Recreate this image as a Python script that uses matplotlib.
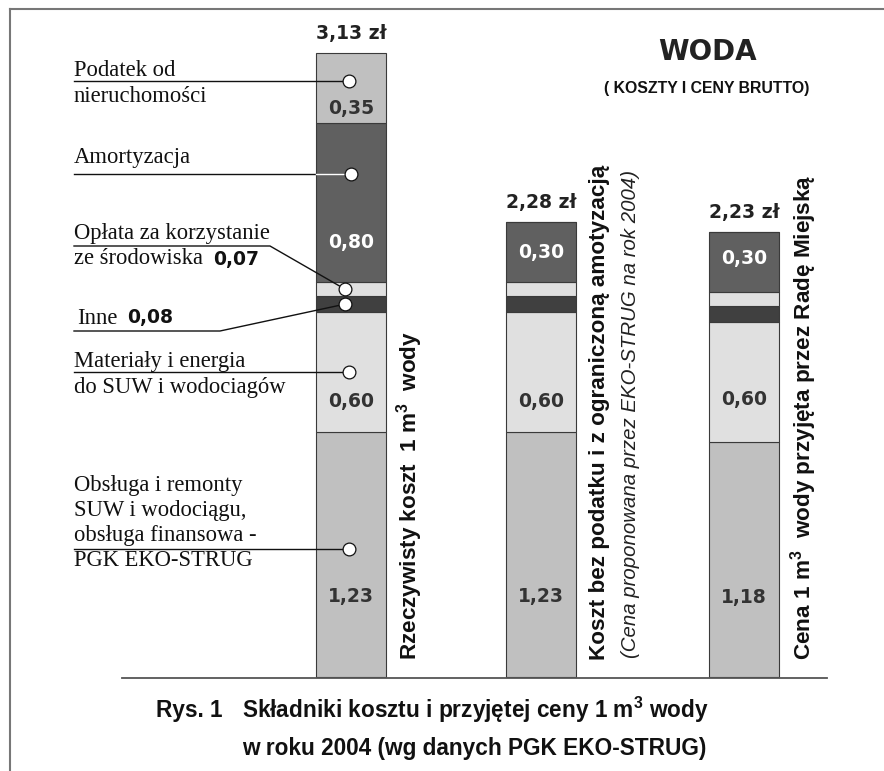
import numpy as np
import matplotlib
matplotlib.use('Agg')
import matplotlib.pyplot as plt

plt.rcParams['mathtext.fontset'] = 'custom'
plt.rcParams['mathtext.rm'] = 'Liberation Sans'
plt.rcParams['mathtext.bf'] = 'Liberation Sans:bold'

# data (zl per 1 m3 of water, 2004)
bar_names = ['Rzeczywisty koszt  1 m$^{\\mathbf{3}}$  wody',
             'Koszt bez podatku i z ograniczoną amotyzacją',
             'Cena 1 m$^{\\mathbf{3}}$  wody przyjęta przez Radę Miejską']
obsluga = [1.23, 1.23, 1.18]
materialy = [0.60, 0.60, 0.60]
inne = [0.08, 0.08, 0.08]
oplata = [0.07, 0.07, 0.07]
amortyzacja = [0.80, 0.30, 0.30]
podatek = [0.35, 0.00, 0.00]
totals = [3.13, 2.28, 2.23]

segments = [obsluga, materialy, inne, oplata, amortyzacja, podatek]
seg_colors = ['#c0c0c0', '#e0e0e0', '#404040', '#e0e0e0', '#606060', '#c0c0c0']

W, H = 884, 771
fig = plt.figure(figsize=(W / 100, H / 100), dpi=100)

# bars: x in pixels, y in zl (199.4 px per zl, zero at pixel row 677)
ax = fig.add_axes([0, 0, 1, 1])
scale = 199.4
ax.set_xlim(0, W)
ax.set_ylim(-(H - 677) / scale, 677 / scale)
ax.axis('off')

# overlay in pixel coordinates
ov = fig.add_axes([0, 0, 1, 1])
ov.set_xlim(0, W)
ov.set_ylim(H, 0)
ov.axis('off')
ov.patch.set_alpha(0)

xpos = np.array([351, 541, 744])
bw = 70

bottoms = np.zeros(3)
seg_bottoms = []
for vals, col in zip(segments, seg_colors):
    vals = np.array(vals)
    ax.bar(xpos, vals, bw, bottom=bottoms, color=col,
           edgecolor='#3a3a3a', linewidth=0.8)
    seg_bottoms.append(bottoms.copy())
    bottoms = bottoms + vals


def fmt(v):
    return ('%.2f' % v).replace('.', ',')


num_font = dict(family='DejaVu Sans', fontweight='bold', fontsize=13.5)

# value labels inside segments: (segment index, position within segment per bar)
label_frac = {0: [0.33, 0.33, 0.34],
              1: [0.25, 0.25, 0.35],
              4: [0.25, 0.5, 0.57],
              5: [0.21, 0.21, 0.21]}
for si, fr in label_frac.items():
    vals = segments[si]
    txt_col = 'white' if si == 4 else '#333333'
    for i in range(3):
        if vals[i] <= 0:
            continue
        y = seg_bottoms[si][i] + fr[i] * vals[i]
        ax.text(xpos[i], y, fmt(vals[i]), ha='center', va='center',
                color=txt_col, **num_font)

for i in range(3):
    ax.annotate(fmt(totals[i]) + ' zł', (xpos[i], totals[i]),
                xytext=(0, 14), textcoords='offset points',
                ha='center', va='center', color='#222222',
                family='DejaVu Sans', fontweight='bold', fontsize=13.5)


def to_pix(x, v):
    return ov.transData.inverted().transform(ax.transData.transform((x, v)))


# left legend labels with leader lines to circles on the first bar
serif = dict(family='Liberation Serif', fontsize=16.3, color='#111111')
left_x = 74

# (segment index, position in segment, circle x)
callouts = [
    (5, 0.60, 349),
    (4, 0.68, 351),
    (3, 0.50, 345),
    (2, 0.50, 345),
    (1, 0.50, 349),
    (0, 0.52, 349),
]
circ = {}
for si, fr, cx in callouts:
    v = seg_bottoms[si][0] + fr * segments[si][0]
    circ[si] = to_pix(cx, v)

ink = '#111111'
ov.text(left_x, 70, 'Podatek od', va='center', **serif)
ov.text(left_x, 97, 'nieruchomości', va='center', **serif)
ov.plot([left_x, circ[5][0]], [circ[5][1], circ[5][1]], color=ink, lw=1)

ov.text(left_x, 158, 'Amortyzacja', va='center', **serif)
ov.plot([left_x, 316], [circ[4][1], circ[4][1]], color=ink, lw=1)
ov.plot([316, circ[4][0]], [circ[4][1], circ[4][1]], color='white', lw=1)

ov.text(left_x, 233, 'Opłata za korzystanie', va='center', **serif)
ov.text(left_x, 259, 'ze środowiska', va='center', **serif)
ov.text(213, 259, fmt(oplata[0]), va='center', ha='left', color=ink, **num_font)
ov.plot([left_x, 270, circ[3][0]], [246, 246, circ[3][1]], color=ink, lw=1)

ov.text(77, 318, 'Inne', va='center', **serif)
ov.text(127, 318, fmt(inne[0]), va='center', ha='left', color=ink, **num_font)
ov.plot([left_x, 220, circ[2][0]], [331, 331, circ[2][1]], color=ink, lw=1)

ov.text(left_x, 362, 'Materiały i energia', va='center', **serif)
ov.text(left_x, 388, 'do SUW i wodociagów', va='center', **serif)
ov.plot([left_x, circ[1][0]], [circ[1][1], circ[1][1]], color=ink, lw=1)

obs_lines = ['Obsługa i remonty', 'SUW i wodociągu,', 'obsługa finansowa -', 'PGK EKO-STRUG']
for k, s in enumerate(obs_lines):
    ov.text(left_x, 485 + k * 25.3, s, va='center', **serif)
ov.plot([left_x, circ[0][0]], [circ[0][1], circ[0][1]], color=ink, lw=1)

for si in circ:
    ov.plot(circ[si][0], circ[si][1], 'o', ms=9.2, mfc='white', mec=ink,
            mew=0.9, zorder=5)

# rotated bar names
rot = dict(rotation=90, ha='center', va='bottom', fontsize=16.2,
           family='Liberation Sans', fontweight='bold', color=ink)
ov.text(410, 660, bar_names[0], **rot)
ov.text(600, 660, bar_names[1], **rot)
ov.text(630, 658, '(Cena proponowana przez EKO-STRUG na rok 2004)', rotation=90,
        ha='center', va='bottom', fontsize=14.7, family='Liberation Sans',
        style='italic', color='#222222')
ov.text(804, 660, bar_names[2], **rot)

# title
ov.text(707, 52, 'WODA', ha='center', va='center', fontsize=20,
        family='DejaVu Sans', fontweight='heavy', color='#222222')
ov.text(707, 89, '( KOSZTY I CENY BRUTTO)', ha='center', va='center',
        fontsize=11.4, family='Liberation Sans', fontweight='bold', color=ink)

# frame and baseline
ov.plot([10, W], [9, 9], color='#777777', lw=1.5)
ov.plot([10, 10], [9, H], color='#777777', lw=1.5)
ov.plot([122, 827], [677.5, 677.5], color='#555555', lw=1.3)

# caption
cap = dict(fontsize=16.3, family='Liberation Sans', fontweight='bold',
           color=ink, va='center', ha='left')
ov.text(156, 710, 'Rys. 1', **cap)
ov.text(242, 710, 'Składniki kosztu i przyjętej ceny 1 m$^{\\mathbf{3}}$ wody', **cap)
ov.text(242, 748, 'w roku 2004 (wg danych PGK EKO-STRUG)', **cap)

fig.savefig('out.png', dpi=100, facecolor='white')
